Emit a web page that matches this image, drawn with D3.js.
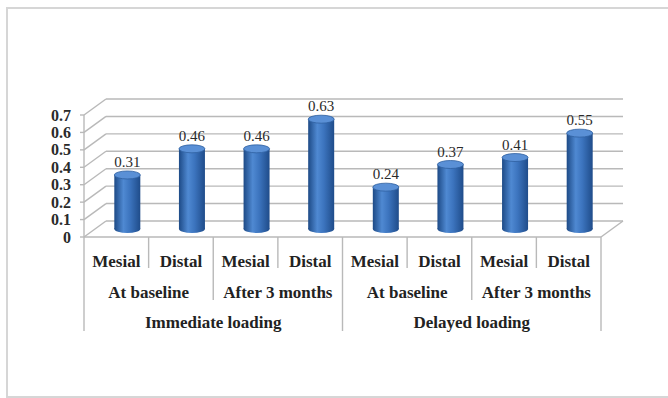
<!DOCTYPE html>
<html>
<head>
<meta charset="utf-8">
<script src="https://cdn.jsdelivr.net/npm/d3@7"></script>
<style>
  html, body { margin: 0; padding: 0; background: #fff; }
  svg { display: block; }
</style>
</head>
<body>
<div id="chart"></div>
<script>
const measures = ['Mesial', 'Distal', 'Mesial', 'Distal', 'Mesial', 'Distal', 'Mesial', 'Distal']
const periods = ['At baseline', 'After 3 months', 'At baseline', 'After 3 months']
const groups = ['Immediate loading', 'Delayed loading']
const values = [0.31, 0.46, 0.46, 0.63, 0.24, 0.37, 0.41, 0.55]
const yTicks = [0, 0.1, 0.2, 0.3, 0.4, 0.5, 0.6, 0.7]

const width = 668
const height = 398
const depth = { x: 22, y: -16 }
const gridColor = '#b9b9b9'

const svg = d3.select('#chart').append('svg')
  .attr('width', width)
  .attr('height', height)
  .attr('font-family', "'Liberation Serif', 'Times New Roman', Times, serif")

// outer frame (right side runs off the picture)
svg.append('rect')
  .attr('x', 7).attr('y', 8)
  .attr('width', 700).attr('height', 389)
  .attr('fill', 'none')
  .attr('stroke', '#d6d6d6')
  .attr('stroke-width', 2)

const x = d3.scaleBand()
  .domain(d3.range(values.length))
  .range([84, 601])
  .paddingInner(0)

const y = d3.scaleLinear()
  .domain([0, 0.7])
  .range([237, 115])

const x0 = x.range()[0]
const x1 = x.range()[1]

const defs = svg.append('defs')
const grad = defs.append('linearGradient').attr('id', 'cyl')
  .attr('x1', '0%').attr('x2', '100%').attr('y1', '0%').attr('y2', '0%')
grad.append('stop').attr('offset', '0%').attr('stop-color', '#1d4a86')
grad.append('stop').attr('offset', '35%').attr('stop-color', '#4f89d2')
grad.append('stop').attr('offset', '60%').attr('stop-color', '#3c74be')
grad.append('stop').attr('offset', '100%').attr('stop-color', '#1f4c8a')

// walls / gridlines
const grid = svg.append('g').attr('stroke', gridColor).attr('stroke-width', 1.4).attr('fill', 'none')

yTicks.forEach(v => {
  grid.append('line')
    .attr('x1', x0).attr('y1', y(v))
    .attr('x2', x0 + depth.x).attr('y2', y(v) + depth.y)
  grid.append('line')
    .attr('x1', x0 + depth.x).attr('y1', y(v) + depth.y)
    .attr('x2', x1 + depth.x).attr('y2', y(v) + depth.y)
  grid.append('line')
    .attr('x1', x0 - 4).attr('y1', y(v))
    .attr('x2', x0).attr('y2', y(v))
})

// front axis line and floor
grid.append('line')
  .attr('x1', x0).attr('y1', y(0.7))
  .attr('x2', x0).attr('y2', y(0))
grid.append('line')
  .attr('x1', x0).attr('y1', y(0))
  .attr('x2', x1).attr('y2', y(0))
grid.append('line')
  .attr('x1', x1).attr('y1', y(0))
  .attr('x2', x1 + depth.x).attr('y2', y(0) + depth.y)

// y tick labels
svg.append('g')
  .selectAll('text')
  .data(yTicks)
  .join('text')
  .attr('x', 71)
  .attr('y', d => y(d))
  .attr('dy', '0.35em')
  .attr('text-anchor', 'end')
  .attr('font-size', 16)
  .attr('font-weight', 'bold')
  .attr('fill', '#2a2a2a')
  .text(d => d3.format('')(+d.toFixed(1)))

// cylinders
const rx = 13
const ry = 4
const bars = svg.append('g')
  .selectAll('g')
  .data(values)
  .join('g')

const cx = (d, i) => x(i) + x.bandwidth() / 2 + depth.x / 2
const baseY = y(0) + depth.y / 2
const topY = d => y(d) + depth.y / 2

bars.append('ellipse')
  .attr('cx', cx)
  .attr('cy', baseY)
  .attr('rx', rx).attr('ry', ry)
  .attr('fill', 'url(#cyl)')
bars.append('rect')
  .attr('x', (d, i) => cx(d, i) - rx)
  .attr('y', d => topY(d))
  .attr('width', rx * 2)
  .attr('height', d => baseY - topY(d))
  .attr('fill', 'url(#cyl)')
bars.append('ellipse')
  .attr('cx', cx)
  .attr('cy', d => topY(d))
  .attr('rx', rx).attr('ry', ry)
  .attr('fill', '#5a90d6')
  .attr('stroke', '#2f5f9f')
  .attr('stroke-width', 0.8)

bars.append('text')
  .attr('x', cx)
  .attr('y', d => topY(d) - 8)
  .attr('text-anchor', 'middle')
  .attr('font-size', 15)
  .attr('fill', '#2a2a2a')
  .text(d => d)

// category axis (3 levels)
const sep = svg.append('g').attr('stroke', gridColor).attr('stroke-width', 1.4)
d3.range(values.length + 1).forEach(i => {
  let bottom = 268
  if (i % 2 === 0) bottom = 300
  if (i % 4 === 0) bottom = 331
  const xx = i === values.length ? x1 : x(i)
  sep.append('line')
    .attr('x1', xx).attr('y1', y(0))
    .attr('x2', xx).attr('y2', bottom)
})

const labels = svg.append('g')
  .attr('font-size', 17)
  .attr('font-weight', 'bold')
  .attr('fill', '#222')
  .attr('text-anchor', 'middle')

labels.selectAll('.m')
  .data(measures)
  .join('text')
  .attr('class', 'm')
  .attr('x', (d, i) => x(i) + x.bandwidth() / 2)
  .attr('y', 267)
  .text(d => d)

labels.selectAll('.p')
  .data(periods)
  .join('text')
  .attr('class', 'p')
  .attr('x', (d, i) => x(i * 2) + x.bandwidth())
  .attr('y', 298)
  .text(d => d)

labels.selectAll('.g')
  .data(groups)
  .join('text')
  .attr('class', 'g')
  .attr('x', (d, i) => x(i * 4) + x.bandwidth() * 2)
  .attr('y', 328)
  .text(d => d)
</script>
</body>
</html>
